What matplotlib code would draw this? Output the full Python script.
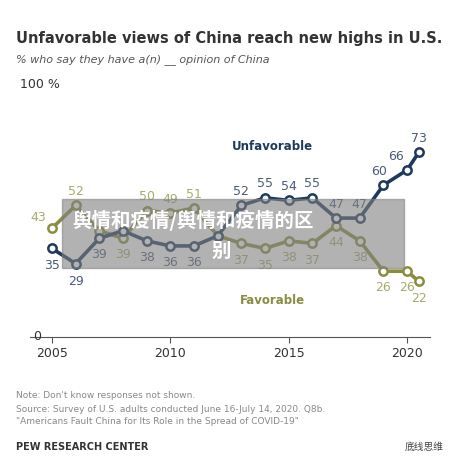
import matplotlib
matplotlib.use('Agg')
import matplotlib.pyplot as plt

years = [2005, 2006, 2007, 2008, 2009, 2010, 2011, 2012, 2013, 2014,
         2015, 2016, 2017, 2018, 2019, 2020, 2020.5]
unfavorable = [35, 29, 39, 42, 38, 36, 36, 40, 52, 55, 54, 55, 47, 47, 60, 66, 73]
favorable = [43, 52, 42, 39, 50, 49, 51, 40, 37, 35, 38, 37, 44, 38, 26, 26, 22]
xticks = [2005, 2010, 2015, 2020]

# label offsets in points (dx, dy); None = no label
unf_off = [(0, -12), (0, -13), (0, -12), None, (0, -12), (0, -12), (0, -12), None,
           (0, 10), (0, 10), (0, 10), (0, 10), (0, 10), (0, 10), (-3, 10), (-8, 10), (0, 10)]
fav_off = [(-10, 8), (0, 10), None, (0, -12), (0, 10), (0, 10), (0, 10), None,
           (0, -12), (0, -12), (0, -12), (0, -12), (0, -12), (0, -12), (0, -12), (0, -12), (0, -12)]

NAVY = '#1d3a5c'
OLIVE = '#8a8d3f'
W = H = 468

fig = plt.figure(figsize=(4.68, 4.68), dpi=100)
ax = fig.add_axes([30 / W, (H - 337) / H, 400 / W, 253 / H])

for vals, col, offs in [(favorable, OLIVE, fav_off), (unfavorable, NAVY, unf_off)]:
    ax.plot(years, vals, '-o', color=col, lw=2.6, ms=6, mfc='white', mec=col, mew=1.8,
            zorder=3)
    lc = '#a8ab6a' if col == OLIVE else '#4a5a78'
    for x, v, o in zip(years, vals, offs):
        if o is None:
            continue
        ax.annotate(str(v), (x, v), xytext=o, textcoords='offset points',
                    ha='center', va='center', fontsize=9, color=lc)

ax.text(2014.3, 74, 'Unfavorable', color=NAVY, fontsize=8.5, fontweight='bold', ha='center')
ax.text(2014.3, 13, 'Favorable', color=OLIVE, fontsize=8.5, fontweight='bold', ha='center')

ax.set_xlim(2004.07, 2020.97)
ax.set_ylim(0, 100)
ax.set_xticks(xticks)
ax.set_yticks([])
for s in ['top', 'right', 'left']:
    ax.spines[s].set_visible(False)
ax.spines['bottom'].set_color('#555555')
ax.tick_params(axis='x', length=4, color='#555555', labelsize=9, labelcolor='#333333')
fig.text(37 / W, 1 - 337 / H, '0', ha='center', va='center', fontsize=9, color='#333333')
fig.text(20 / W, 1 - 84 / H, '100 %', fontsize=9, color='#333333', va='center')

fig.text(16 / W, 1 - 38 / H, 'Unfavorable views of China reach new highs in U.S.',
         fontsize=10.5, fontweight='bold', color='#333333', va='center')
fig.text(16 / W, 1 - 60 / H, '% who say they have a(n) __ opinion of China',
         fontsize=8, style='italic', color='#555555', va='center')
notes = ["Note: Don't know responses not shown.",
         'Source: Survey of U.S. adults conducted June 16-July 14, 2020. Q8b.',
         '"Americans Fault China for Its Role in the Spread of COVID-19"']
for i, n in enumerate(notes):
    fig.text(16 / W, 1 - (396 + i * 13) / H, n, fontsize=6.5, color='#888888', va='center')
fig.text(16 / W, 1 - 447 / H, 'PEW RESEARCH CENTER', fontsize=7, fontweight='bold',
         color='#333333', va='center')

# watermark overlay
fig.patches.append(plt.Rectangle((62 / W, 1 - 268 / H), 342 / W, 69 / H,
                                 transform=fig.transFigure, color='#808080', alpha=0.6,
                                 zorder=10))
fig.text(72 / W, 1 - 220 / H, '舆情和疫情/舆情和疫情的区', fontsize=14, fontweight='bold',
         color='white', va='center', family=['Noto Sans CJK SC', 'DejaVu Sans'], zorder=11)
fig.text(212 / W, 1 - 251 / H, '别', fontsize=14, fontweight='bold',
         color='white', va='center', family=['Noto Sans CJK SC', 'DejaVu Sans'], zorder=11)
fig.text(405 / W, 1 - 447 / H, '底线思维', fontsize=7, color='#444444', va='center',
         family=['Noto Sans CJK SC', 'DejaVu Sans'])

fig.savefig('out.png', dpi=100)
